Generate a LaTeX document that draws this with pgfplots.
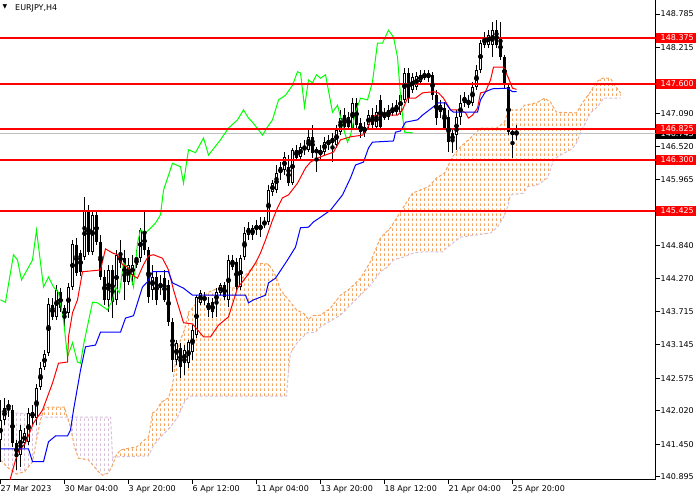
\documentclass[border=0pt]{standalone}
\usepackage{fontspec}
\setmainfont{DejaVu Sans}
\usepackage{pgfplots}
\usepackage{pgfplotstable}
\pgfplotsset{compat=1.18}
\usepgfplotslibrary{fillbetween}
\usetikzlibrary{patterns.meta}

\definecolor{sandy}{RGB}{244,164,96}
\definecolor{thist}{RGB}{216,191,216}
\definecolor{chik}{RGB}{0,255,0}
\definecolor{bidgray}{RGB}{192,192,192}

% dotted vertical hatch of the cloud, one column per bar (4pt)
\tikzdeclarepattern{
  name=cloudhatch,
  type=uncolored,
  bounding box={(0pt,0pt) and (4pt,5pt)},
  tile size={(4pt,5pt)},
  code={\draw[line width=1pt] (0.5pt,0pt) -- (0.5pt,3pt);}
}

% EURJPY H4 bars, x = bar number
\pgfplotstableread{
i o h l c
0 141.52 142.20 141.15 141.86
1 141.86 142.24 141.78 142.07
2 142.07 142.20 141.91 142.12
3 142.03 142.12 141.40 141.47
4 141.47 141.52 141.01 141.23
5 141.27 141.78 141.06 141.69
6 141.47 141.73 141.38 141.64
7 141.49 142.07 141.44 141.98
8 141.90 142.12 141.78 142.00
9 141.90 142.48 141.78 142.41
10 142.42 142.85 142.37 142.75
11 142.77 143.06 142.71 142.99
12 143.00 143.94 142.95 143.84
13 143.82 143.94 143.57 143.62
14 143.62 144.16 143.57 144.08
15 144.04 144.11 143.70 143.77
16 143.77 143.82 143.43 143.62
17 143.69 144.20 143.60 144.13
18 144.13 144.93 144.08 144.86
19 144.85 144.97 144.32 144.37
20 144.71 144.76 144.32 144.39
21 144.64 145.67 144.59 145.44
22 145.44 145.53 144.68 144.73
23 144.73 145.44 144.68 145.36
24 145.36 145.41 144.85 144.90
25 144.90 145.02 144.25 144.30
26 144.30 144.42 143.82 143.91
27 143.91 144.51 143.70 144.42
28 144.42 144.51 143.60 143.87
29 143.91 144.76 143.82 144.68
30 144.68 144.93 144.45 144.54
31 144.62 144.76 143.91 144.22
32 144.22 144.62 144.16 144.51
33 144.33 144.68 144.16 144.51
34 144.51 144.76 144.45 144.62
35 144.62 145.14 144.56 145.10
36 145.07 145.43 144.68 144.76
37 144.76 144.81 143.86 143.96
38 144.08 144.51 143.91 144.30
39 144.30 144.39 143.82 143.91
40 144.11 144.33 143.99 144.20
41 144.28 144.42 143.87 143.91
42 144.16 144.25 143.47 143.53
43 143.53 143.60 142.68 142.89
44 142.89 143.23 142.80 143.18
45 143.09 143.18 142.58 142.77
46 142.83 143.14 142.63 143.06
47 142.83 143.23 142.75 143.19
48 143.02 143.48 142.89 143.40
49 143.31 143.99 143.26 143.96
50 143.86 144.08 143.82 144.03
51 143.96 144.04 143.82 143.91
52 143.74 143.96 143.62 143.86
53 143.87 143.94 143.60 143.70
54 143.87 144.11 143.62 144.04
55 144.03 144.20 143.99 144.16
56 144.16 144.22 143.91 143.96
57 143.91 144.68 143.79 144.59
58 144.47 144.68 144.42 144.59
59 144.56 144.62 144.08 144.13
60 144.13 144.68 144.08 144.62
61 144.64 145.15 144.59 145.05
62 145.02 145.24 144.93 145.14
63 145.02 145.19 144.93 145.14
64 145.10 145.27 145.02 145.19
65 145.10 145.32 144.98 145.19
66 145.19 145.32 145.14 145.24
67 145.24 145.87 145.19 145.78
68 145.75 145.96 145.68 145.90
69 145.78 146.21 145.73 146.07
70 146.07 146.26 145.96 146.18
71 146.13 146.43 146.04 146.35
72 146.18 146.38 145.85 145.90
73 145.90 146.50 145.87 146.47
74 146.47 146.55 146.30 146.33
75 146.35 146.59 146.30 146.52
76 146.47 146.64 146.38 146.52
77 146.47 146.81 146.43 146.69
78 146.69 146.89 146.33 146.42
79 146.47 146.52 146.09 146.42
80 146.38 146.55 146.30 146.47
81 146.43 146.69 146.38 146.60
82 146.55 146.72 146.47 146.64
83 146.59 146.76 146.26 146.67
84 146.55 146.89 146.50 146.81
85 146.77 147.15 146.72 147.01
86 147.06 147.18 146.81 146.86
87 147.03 147.11 146.81 146.86
88 146.84 147.35 146.81 147.27
89 147.27 147.35 146.81 146.89
90 146.93 147.01 146.67 146.77
91 146.76 146.94 146.69 146.86
92 146.89 147.15 146.81 147.06
93 147.06 147.18 146.84 146.89
94 146.86 147.23 146.81 147.11
95 147.32 147.40 146.81 146.86
96 147.10 147.18 146.98 147.01
97 147.03 147.23 146.98 147.15
98 147.10 147.27 147.05 147.18
99 147.11 147.32 147.06 147.23
100 147.11 147.46 147.06 147.40
101 147.32 147.86 147.27 147.78
102 147.78 147.86 147.27 147.35
103 147.49 147.78 147.44 147.71
104 147.54 147.80 147.49 147.73
105 147.63 147.83 147.57 147.75
106 147.76 147.83 147.66 147.69
107 147.69 147.83 147.63 147.78
108 147.75 147.80 147.32 147.40
109 147.40 147.49 146.89 147.01
110 147.11 147.32 147.01 147.23
111 147.18 147.28 146.81 146.84
112 147.03 147.15 146.43 146.60
113 146.76 146.84 146.42 146.60
114 146.72 147.15 146.47 147.03
115 147.03 147.40 146.89 147.27
116 147.27 147.46 147.20 147.37
117 147.32 147.40 147.18 147.23
118 147.27 147.63 147.22 147.54
119 147.54 147.92 147.49 147.83
120 147.83 148.34 147.78 148.29
121 148.26 148.48 148.21 148.38
122 148.26 148.51 148.21 148.43
123 148.26 148.65 148.05 148.51
124 148.51 148.68 148.21 148.26
125 148.39 148.65 148.00 148.05
126 148.05 148.09 147.52 147.57
127 147.54 147.57 146.72 146.77
128 146.77 146.84 146.33 146.74
129 146.76 146.89 146.64 146.74
}\candles

\begin{document}
\begin{tikzpicture}
\begin{axis}[
  at={(0pt,20.5pt)}, anchor=south west,
  width=655.5pt, height=479.5pt, scale only axis,
  xmin=-0.125, xmax=163.75, ymin=140.847, ymax=149.024,
  axis x line*=bottom, axis y line*=right,
  axis line style={black, line width=1pt},
  tick align=outside,
  major tick length=4pt,
  tick style={black, line width=1pt},
  xtick={0,16,32,48,64,80,96,112,128},
  xticklabels={27 Mar 2023,30 Mar 04:00,3 Apr 20:00,6 Apr 12:00,11 Apr 04:00,13 Apr 20:00,18 Apr 12:00,21 Apr 04:00,25 Apr 20:00},
  ytick={148.785,148.215,147.090,146.520,145.965,144.840,144.270,143.715,143.145,142.575,142.020,141.450,140.895},
  yticklabels={148.785,148.215,147.090,146.520,145.965,144.840,144.270,143.715,143.145,142.575,142.020,141.450,140.895},
  tick label style={font=\fontsize{8pt}{9pt}\selectfont},
  xticklabel style={anchor=north west, inner sep=0pt, xshift=0pt, yshift=-2pt},
  yticklabel style={anchor=west, inner sep=0pt, xshift=1pt},
]

% Senkou span A
\addplot[name path=spanA, sandy, line width=1pt, dash pattern=on 3pt off 2pt, forget plot] coordinates {
(0,141.18) (2,141.04) (4,140.94) (6,140.98) (8,141.15) (9,141.52) (10,141.86) (11,142.07)
(12,142.08) (16,142.08) (16.5,141.95) (17.5,141.74) (18.5,141.40) (19.5,141.21) (22,141.18)
(23.5,141.06) (24.5,140.98) (25.5,140.92) (27,140.96) (28,141.09) (29,141.27) (30,141.35)
(32,141.38) (34,141.40) (36,141.52) (37,141.57) (38,141.98) (39,142.02) (40,142.15) (41,142.20)
(42,142.24) (43,142.46) (44,142.97) (45,143.23) (46,143.40) (47,143.70) (48,143.77) (49,143.86)
(50,143.91) (52,144.04) (55,144.13) (59,144.11) (60,144.25) (62,144.39) (63,144.47) (64,144.54)
(67,144.52) (68,144.42) (69,144.28) (70,144.08) (72,143.91) (74,143.74) (76,143.67) (77,143.57)
(78,143.64) (80,143.65) (82.5,143.77) (85,143.99) (87.5,144.11) (90,144.28) (92.5,144.56)
(95,144.97) (97.5,145.14) (100,145.41) (103,145.73) (107,145.84) (109,145.99) (111,146.07)
(113,146.35) (115,146.52) (117,146.64) (120,146.84) (124,146.84) (126,146.94) (127,147.15)
(130,147.15) (131,147.23) (134,147.27) (136,147.35) (137.5,147.28) (139,147.11) (144,147.10)
(145.5,147.27) (147.5,147.46) (149,147.63) (150.5,147.69) (152.5,147.69) (153.5,147.57) (155,147.44)
};
% Senkou span B
\addplot[name path=spanB, thist, line width=1pt, dash pattern=on 3pt off 2pt, forget plot] coordinates {
(0,142.00) (10,141.95) (11,141.91) (27.5,141.91) (28,141.23) (37,141.25) (38,141.40) (39,141.49)
(40,141.57) (42.5,141.74) (44.25,141.91) (46.25,142.20) (47.5,142.27) (71.5,142.27) (72,142.71)
(72.5,143.00) (74.25,143.19) (76.75,143.35) (78.75,143.36) (80,143.45) (85,143.65) (88.75,143.91)
(92.5,144.16) (95,144.39) (96.75,144.47) (98.25,144.59) (100.75,144.64) (103.25,144.71)
(105.75,144.73) (110.5,144.73) (111.75,144.81) (115,144.98) (119.25,145.02) (122.5,145.05)
(124.25,145.15) (125.75,145.32) (126.75,145.49) (127.5,145.70) (130.75,145.73) (131.75,145.84)
(134.25,145.87) (136.75,145.99) (137.5,146.13) (138.25,146.30) (140,146.38) (142.5,146.47)
(143.75,146.55) (145,146.76) (146.25,146.93) (147.5,147.10) (149.25,147.20) (150.75,147.35) (155,147.35)
};
\addplot[pattern=cloudhatch, pattern color=thist, draw=none, forget plot] fill between[of=spanA and spanB, soft clip={(-1,140) rectangle (10.4,150)}];
\addplot[pattern=cloudhatch, pattern color=sandy, draw=none, forget plot] fill between[of=spanA and spanB, soft clip={(10.4,140) rectangle (16.6,150)}];
\addplot[pattern=cloudhatch, pattern color=thist, draw=none, forget plot] fill between[of=spanA and spanB, soft clip={(16.6,140) rectangle (28.9,150)}];
\addplot[pattern=cloudhatch, pattern color=sandy, draw=none, forget plot] fill between[of=spanA and spanB, soft clip={(28.9,140) rectangle (155,150)}];

% bid line
\addplot[bidgray, line width=1pt, forget plot] coordinates {(-0.125,146.743) (163.75,146.743)};

% candles: wicks, bodies, hollow interiors of rising bars
\addplot[only marks, mark=none, forget plot, error bars/.cd, y dir=both, y explicit, error mark=none,
  error bar style={black, line width=1pt}]
  table[x=i, y expr={(\thisrow{h}+\thisrow{l})/2}, y error expr={(\thisrow{h}-\thisrow{l})/2}] {\candles};
\addplot[only marks, mark=none, forget plot, error bars/.cd, y dir=both, y explicit, error mark=none,
  error bar style={black, line width=3pt}]
  table[x=i, y expr={(\thisrow{o}+\thisrow{c})/2}, y error expr={abs(\thisrow{c}-\thisrow{o})/2}] {\candles};
\addplot[only marks, mark=none, forget plot, error bars/.cd, y dir=both, y explicit, error mark=none,
  error bar style={white, line width=1pt}]
  table[x=i, y expr={(\thisrow{o}+\thisrow{c})/2}, y error expr={max((\thisrow{c}-\thisrow{o})/2-0.01705,0)}] {\candles};

% Chikou span
\addplot[chik, line width=1pt, forget plot] coordinates {
(0,143.91) (1.25,143.87) (3.25,144.68) (4.25,144.59) (5.25,144.25) (8,144.59) (9,145.10) (10.75,144.13)
(12,144.30) (13.25,144.13) (14.5,144.04) (15.75,143.57) (16.75,142.94) (18,143.18) (19.25,142.85)
(20,142.83) (20.75,143.14) (23,143.87) (24.25,143.86) (26.75,143.74) (28,143.91) (28.75,144.13)
(29.75,144.03) (30.75,144.54) (32,144.45) (33.25,144.13) (34.25,144.88) (35,145.10) (36.25,145.05)
(38.75,145.22) (40,145.36) (40.75,145.78) (43,146.24) (45,146.18) (45.75,145.90) (47,146.47)
(48.75,146.42) (50.75,146.67) (52,146.38) (55,146.64) (57,146.84) (59.25,146.98) (60.75,147.15)
(62,147.01) (63,146.94) (64.5,146.81) (65.5,146.72) (66.75,146.86) (68,146.98) (69.5,147.32)
(71.25,147.40) (73,147.57) (74.25,147.80) (75,147.78) (76,147.20) (77,147.66) (78,147.61)
(79,147.75) (80,147.69) (81.25,147.75) (83,147.11) (84.25,147.23) (85.5,146.89) (86.75,146.60)
(87.5,146.72) (88.75,147.11) (90,147.35) (91.75,147.32) (93,147.63) (94.25,148.29) (95.5,148.29)
(97,148.51) (98.25,148.39) (99.25,148.05) (100,147.40) (100.5,147.06) (101,146.77) (103,146.76)
};
% Tenkan-sen
\addplot[red, line width=1pt, forget plot] coordinates {
(2,140.74) (2.5,140.87) (4.25,141.30) (6.25,141.47) (8.25,141.81) (10.5,142.03) (13,142.49)
(14.5,142.83) (16.75,142.85) (17,143.28) (18,143.69) (19.25,143.91) (20.5,144.39) (25,144.42)
(26.25,144.78) (28,144.71) (29.25,144.68) (30.5,144.51) (31.75,144.47) (33,144.33) (34.25,144.28)
(35.75,144.51) (37,144.66) (38.25,144.68) (40.5,144.62) (42,144.42) (43.25,144.08) (45.75,143.52)
(48,143.50) (50.75,143.28) (52.5,143.28) (54.5,143.48) (57,143.62) (59.25,144.11) (61.75,144.33)
(63.75,144.54) (65,144.71) (66.25,144.93) (68,145.27) (69.25,145.48) (70.5,145.65) (72,145.70)
(74.25,145.90) (76.25,146.16) (77.5,146.26) (80,146.35) (83.25,146.43) (85,146.64) (87.5,146.69)
(90.5,146.72) (91.75,146.84) (92.75,147.01) (93.75,147.06) (99.25,147.06) (100.5,147.15)
(101.75,147.35) (103.75,147.35) (105.5,147.44) (108.25,147.46) (109.5,147.44) (110.75,147.35)
(112.5,147.15) (115,147.15) (116.25,147.10) (117,147.01) (118,147.06) (119.25,147.18) (120,147.44)
(121.25,147.46) (122.5,147.66) (123.25,147.88) (125.75,147.88) (127,147.69) (128,147.52) (129,147.50)
};
% Kijun-sen
\addplot[blue, line width=1pt, forget plot] coordinates {
(0,141.37) (7,141.37) (8,141.15) (10.75,141.15) (12,141.49) (13.75,141.59) (16.75,141.59)
(17.5,141.69) (18.25,142.03) (20,142.71) (21.25,143.11) (23.75,143.14) (25,143.36) (30,143.36)
(31.25,143.60) (33.25,143.64) (34.25,143.86) (35.5,144.13) (36.75,144.22) (38,144.39) (42,144.39)
(43,144.20) (45.75,144.11) (48,143.99) (61.25,143.99) (62,143.86) (63.25,143.91) (66.25,143.99)
(67,144.20) (68.75,144.28) (71.75,144.59) (73.75,144.81) (75,145.14) (77,145.15) (78.25,145.24)
(80,145.32) (82.5,145.44) (85.5,145.70) (87.5,145.99) (88.75,146.21) (90.75,146.26) (92,146.50)
(93,146.60) (98.25,146.62) (98.75,146.77) (100,146.79) (101.25,146.94) (104.25,146.98) (105.5,147.06)
(109.5,147.27) (111.25,147.27) (112.5,147.15) (113.25,147.11) (119.25,147.11) (120,147.32)
(121.25,147.46) (123,147.51) (126.75,147.52) (128,147.46) (129,147.46)
};

% horizontal levels
\addplot[red, line width=2pt, forget plot] coordinates {(-0.125,148.375) (163.75,148.375)};
\addplot[red, line width=2pt, forget plot] coordinates {(-0.125,147.600) (163.75,147.600)};
\addplot[red, line width=2pt, forget plot] coordinates {(-0.125,146.825) (163.75,146.825)};
\addplot[red, line width=2pt, forget plot] coordinates {(-0.125,146.300) (163.75,146.300)};
\addplot[red, line width=2pt, forget plot] coordinates {(-0.125,145.425) (163.75,145.425)};

% anchors of the price labels on the scale
\coordinate (bid) at (axis cs:163.75,146.743);
\coordinate (la) at (axis cs:163.75,148.375);
\coordinate (lb) at (axis cs:163.75,147.600);
\coordinate (lc) at (axis cs:163.75,146.825);
\coordinate (ld) at (axis cs:163.75,146.300);
\coordinate (le) at (axis cs:163.75,145.425);
\end{axis}
\tikzset{plabel/.style={anchor=west, text=white, inner sep=0pt, minimum height=10pt,
  font=\fontsize{8pt}{9pt}\selectfont}}
\node[plabel, fill=black] at (bid) {\hspace*{5pt}146.743\hspace*{2pt}};
\node[plabel, fill=red] at (la) {\hspace*{5pt}148.375\hspace*{2pt}};
\node[plabel, fill=red] at (lb) {\hspace*{5pt}147.600\hspace*{2pt}};
\node[plabel, fill=red] at (lc) {\hspace*{5pt}146.825\hspace*{2pt}};
\node[plabel, fill=red] at (ld) {\hspace*{5pt}146.300\hspace*{2pt}};
\node[plabel, fill=red] at (le) {\hspace*{5pt}145.425\hspace*{2pt}};
\node[anchor=north west, inner sep=0pt, font=\fontsize{6pt}{7pt}\selectfont] at (2.5pt,495.5pt) {▼};
\node[anchor=north west, inner sep=0pt, font=\fontsize{8pt}{9pt}\selectfont] at (15pt,496pt) {EURJPY,H4};
\pgfresetboundingbox
\useasboundingbox (0,0) rectangle (700pt,500pt);
\end{tikzpicture}
\end{document}
